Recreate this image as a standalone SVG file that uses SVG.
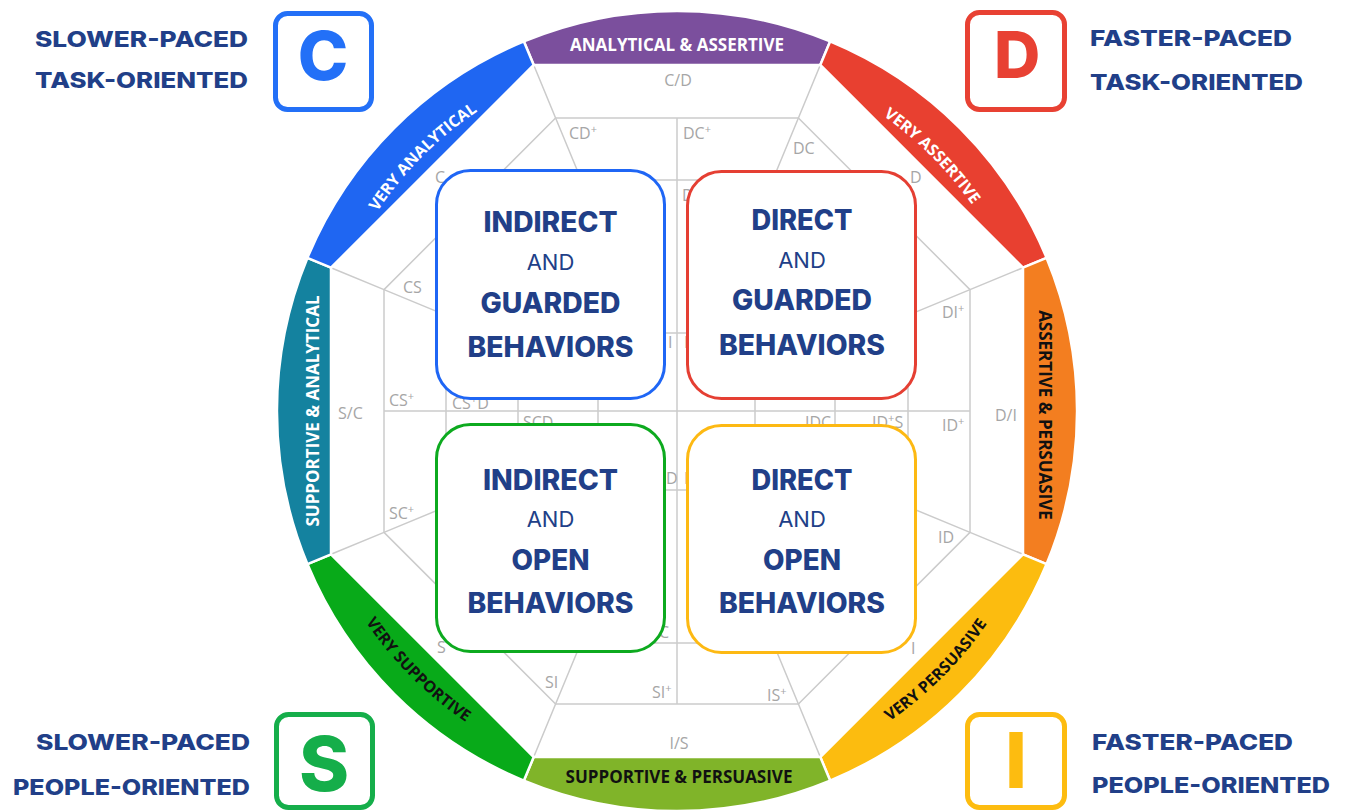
<svg xmlns="http://www.w3.org/2000/svg" width="1345" height="810" viewBox="0 0 1345 810">
<style>
.seg{stroke:#ffffff;stroke-width:2.5;stroke-linejoin:round}
.grid{fill:none;stroke:#cbcbcb;stroke-width:1.5}
.gl{font-family:"Open Sans","Liberation Sans",sans-serif;font-size:16px;fill:#a6a6a6}
.sup{font-size:11px}
.rl{font-family:"Open Sans","Liberation Sans",sans-serif;font-weight:700;font-size:17px}
.rd{font-family:"Open Sans","Liberation Sans",sans-serif;font-weight:700;font-size:16px}
.w{fill:#ffffff}
.k{fill:#111111}
.box{fill:#ffffff;stroke-width:3}
.bt{font-family:Inter,"Liberation Sans",sans-serif;font-weight:800;font-size:28px;fill:#213f88;text-anchor:middle}
.ba{font-family:Inter,"Liberation Sans",sans-serif;font-weight:400;font-size:22px;fill:#213f88;text-anchor:middle}
.lab{font-family:Inter,"Liberation Sans",sans-serif;font-weight:800;font-size:22px;fill:#213f88}
.cb{fill:#ffffff;stroke-width:5}
.big{font-family:Inter,"Liberation Sans",sans-serif;font-weight:800;text-anchor:middle}
</style>
<defs>
<path id="arcA" d="M317,411 A360,360 0 0 1 677,51"/>
<path id="arcB" d="M677,51 A360,360 0 0 1 1037,411"/>
<path id="arcC" d="M301,411 A376,376 0 0 0 677,787"/>
<path id="arcD" d="M677,787 A376,376 0 0 0 1053,411"/>
</defs>
<rect width="1345" height="810" fill="#ffffff"/>

<g id="grid">
<polygon class="grid" points="555.6,118 798.4,118 970,289.6 970,532.4 798.4,704 555.6,704 384,532.4 384,289.6"/>
<path class="grid" d="M533.7,65 L555.6,118 M820.3,65 L798.4,118 M1023,267.7 L970,289.6 M1023,554.3 L970,532.4 M820.3,757 L798.4,704 M533.7,757 L555.6,704 M331,554.3 L384,532.4 M331,267.7 L384,289.6"/>
<path class="grid" d="M555.6,118 L582.4,182.7 M798.4,118 L771.6,182.7 M970,289.6 L905.3,316.4 M970,532.4 L905.3,505.6 M798.4,704 L771.6,639.3 M555.6,704 L582.4,639.3 M384,532.4 L448.7,505.6 M384,289.6 L448.7,316.4"/>
<path class="grid" d="M677,118 L677,704 M384,411 L970,411"/>
<path class="grid" d="M610,180 L745,180 M610,333 L745,333 M610,490 L745,490 M610,643 L745,643"/>
<path class="grid" d="M446,370 L446,450 M518,370 L518,450 M598,370 L598,450 M755,370 L755,450 M835,370 L835,450 M908,370 L908,450"/>
</g>

<g id="grid-labels">
<text class="gl" x="678" y="86" text-anchor="middle">C/D</text>
<text class="gl" x="569" y="139">CD<tspan class="sup" dy="-6">+</tspan></text>
<text class="gl" x="683" y="139">DC<tspan class="sup" dy="-6">+</tspan></text>
<text class="gl" x="793" y="154">DC</text>
<text class="gl" x="910" y="183">D</text>
<text class="gl" x="435" y="183">C</text>
<text class="gl" x="682" y="201">D</text>
<text class="gl" x="403" y="293">CS</text>
<text class="gl" x="942" y="318">DI<tspan class="sup" dy="-6">+</tspan></text>
<text class="gl" x="668" y="348">I</text>
<text class="gl" x="684" y="348">I</text>
<text class="gl" x="338" y="419">S/C</text>
<text class="gl" x="389" y="406">CS<tspan class="sup" dy="-6">+</tspan></text>
<text class="gl" x="452" y="409">CS<tspan class="sup" dy="-6">+</tspan><tspan dy="6">D</tspan></text>
<text class="gl" x="523" y="428">SCD</text>
<text class="gl" x="805" y="428">IDC</text>
<text class="gl" x="872" y="428">ID<tspan class="sup" dy="-6">+</tspan><tspan dy="6">S</tspan></text>
<text class="gl" x="942" y="431">ID<tspan class="sup" dy="-6">+</tspan></text>
<text class="gl" x="995" y="421">D/I</text>
<text class="gl" x="666" y="484">D</text>
<text class="gl" x="684" y="484">I</text>
<text class="gl" x="389" y="519">SC<tspan class="sup" dy="-6">+</tspan></text>
<text class="gl" x="938" y="543">ID</text>
<text class="gl" x="437" y="653">S</text>
<text class="gl" x="659" y="638">C</text>
<text class="gl" x="911" y="654">I</text>
<text class="gl" x="545" y="688">SI</text>
<text class="gl" x="652" y="698">SI<tspan class="sup" dy="-6">+</tspan></text>
<text class="gl" x="767" y="701">IS<tspan class="sup" dy="-6">+</tspan></text>
<text class="gl" x="679" y="749" text-anchor="middle">I/S</text>
</g>

<g id="ring">
<path class="seg" fill="#7b4f9d" d="M523.9,41.4 A400,400 0 0 1 830.1,41.4 L820.3,65 L533.7,65 Z"/>
<path class="seg" fill="#e84030" d="M830.1,41.4 A400,400 0 0 1 1046.6,257.9 L1023,267.7 L820.3,65 Z"/>
<path class="seg" fill="#f37e20" d="M1046.6,257.9 A400,400 0 0 1 1046.6,564.1 L1023,554.3 L1023,267.7 Z"/>
<path class="seg" fill="#fcbc0f" d="M1046.6,564.1 A400,400 0 0 1 830.1,780.6 L820.3,757 L1023,554.3 Z"/>
<path class="seg" fill="#80b429" d="M830.1,780.6 A400,400 0 0 1 523.9,780.6 L533.7,757 L820.3,757 Z"/>
<path class="seg" fill="#08aa19" d="M523.9,780.6 A400,400 0 0 1 307.4,564.1 L331,554.3 L533.7,757 Z"/>
<path class="seg" fill="#14829f" d="M307.4,564.1 A400,400 0 0 1 307.4,257.9 L331,267.7 L331,554.3 Z"/>
<path class="seg" fill="#1f66f2" d="M307.4,257.9 A400,400 0 0 1 523.9,41.4 L533.7,65 L331,267.7 Z"/>
<text class="rl w" x="677" y="51" text-anchor="middle">ANALYTICAL &amp; ASSERTIVE</text>
<text class="rl k" x="679" y="783" text-anchor="middle">SUPPORTIVE &amp; PERSUASIVE</text>
<text class="rl w" transform="translate(313,411) rotate(-90)" x="0" y="6" text-anchor="middle">SUPPORTIVE &amp; ANALYTICAL</text>
<text class="rl k" transform="translate(1045,415) rotate(90)" x="0" y="6" text-anchor="middle">ASSERTIVE &amp; PERSUASIVE</text>
<text class="rd w"><textPath href="#arcA" startOffset="50%" text-anchor="middle">VERY ANALYTICAL</textPath></text>
<text class="rd w"><textPath href="#arcB" startOffset="50%" text-anchor="middle">VERY ASSERTIVE</textPath></text>
<text class="rd k"><textPath href="#arcC" startOffset="50%" text-anchor="middle">VERY SUPPORTIVE</textPath></text>
<text class="rd k"><textPath href="#arcD" startOffset="50%" text-anchor="middle">VERY PERSUASIVE</textPath></text>
</g>

<g id="box-indirect-guarded">
<rect class="box" x="436.5" y="170.5" width="228" height="228" rx="34" stroke="#1f66f5"/>
<text class="bt" x="550.5" y="232" textLength="134" lengthAdjust="spacingAndGlyphs">INDIRECT</text>
<text class="ba" x="550.5" y="270">AND</text>
<text class="bt" x="550.5" y="313" textLength="140" lengthAdjust="spacingAndGlyphs">GUARDED</text>
<text class="bt" x="550.5" y="357" textLength="166" lengthAdjust="spacingAndGlyphs">BEHAVIORS</text>
</g>
<g id="box-direct-guarded">
<rect class="box" x="687.5" y="171.5" width="228" height="227" rx="34" stroke="#e53f33"/>
<text class="bt" x="802" y="230" textLength="101" lengthAdjust="spacingAndGlyphs">DIRECT</text>
<text class="ba" x="802" y="268">AND</text>
<text class="bt" x="802" y="310" textLength="140" lengthAdjust="spacingAndGlyphs">GUARDED</text>
<text class="bt" x="802" y="355" textLength="166" lengthAdjust="spacingAndGlyphs">BEHAVIORS</text>
</g>
<g id="box-indirect-open">
<rect class="box" x="436.5" y="424.5" width="228" height="227" rx="34" stroke="#0daa1f"/>
<text class="bt" x="550.5" y="490" textLength="135" lengthAdjust="spacingAndGlyphs">INDIRECT</text>
<text class="ba" x="550.5" y="527">AND</text>
<text class="bt" x="550.5" y="570" textLength="78" lengthAdjust="spacingAndGlyphs">OPEN</text>
<text class="bt" x="550.5" y="613" textLength="166" lengthAdjust="spacingAndGlyphs">BEHAVIORS</text>
</g>
<g id="box-direct-open">
<rect class="box" x="687.5" y="425.5" width="228" height="227" rx="34" stroke="#fdb913"/>
<text class="bt" x="802" y="490" textLength="101" lengthAdjust="spacingAndGlyphs">DIRECT</text>
<text class="ba" x="802" y="527">AND</text>
<text class="bt" x="802" y="570" textLength="78" lengthAdjust="spacingAndGlyphs">OPEN</text>
<text class="bt" x="802" y="613" textLength="166" lengthAdjust="spacingAndGlyphs">BEHAVIORS</text>
</g>

<g id="corner-c">
<rect class="cb" x="275.5" y="13.5" width="96" height="96" rx="12" stroke="#2370f7"/>
<text class="big" x="323" y="80" font-size="68" fill="#2370f7">C</text>
<text class="lab" x="248" y="47" text-anchor="end" textLength="213" lengthAdjust="spacingAndGlyphs">SLOWER-PACED</text>
<text class="lab" x="248" y="88" text-anchor="end" textLength="213" lengthAdjust="spacingAndGlyphs">TASK-ORIENTED</text>
</g>
<g id="corner-d">
<rect class="cb" x="967.5" y="12.5" width="97" height="97" rx="12" stroke="#e84133"/>
<text class="big" x="1017" y="78" font-size="64" fill="#e84133">D</text>
<text class="lab" x="1090" y="46" textLength="202" lengthAdjust="spacingAndGlyphs">FASTER-PACED</text>
<text class="lab" x="1090" y="90" textLength="213" lengthAdjust="spacingAndGlyphs">TASK-ORIENTED</text>
</g>
<g id="corner-s">
<rect class="cb" x="276.5" y="714.5" width="96" height="93" rx="12" stroke="#15ae4a"/>
<text class="big" x="324" y="791" font-size="76" fill="#15ae4a">S</text>
<text class="lab" x="250" y="750" text-anchor="end" textLength="214" lengthAdjust="spacingAndGlyphs">SLOWER-PACED</text>
<text class="lab" x="250" y="795" text-anchor="end" textLength="237" lengthAdjust="spacingAndGlyphs">PEOPLE-ORIENTED</text>
</g>
<g id="corner-i">
<rect class="cb" x="967.5" y="714.5" width="97" height="93" rx="12" stroke="#fdbc10"/>
<text class="big" x="1016" y="788" font-size="77" fill="#fdbc10">I</text>
<text class="lab" x="1092" y="750" textLength="201" lengthAdjust="spacingAndGlyphs">FASTER-PACED</text>
<text class="lab" x="1092" y="793" textLength="238" lengthAdjust="spacingAndGlyphs">PEOPLE-ORIENTED</text>
</g>
</svg>
